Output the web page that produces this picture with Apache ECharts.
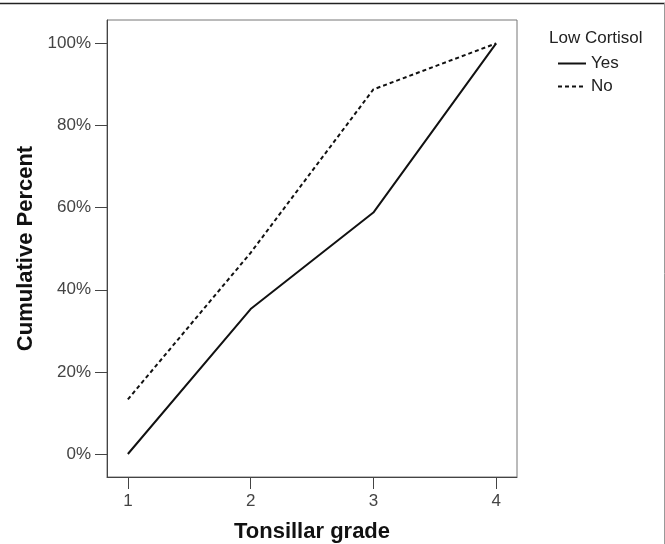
<!DOCTYPE html>
<html>
<head>
<meta charset="utf-8">
<script src="https://cdn.jsdelivr.net/npm/echarts@6/dist/echarts.min.js"></script>
<style>
  html, body { margin: 0; padding: 0; background: #fff; }
  #chart { width: 665px; height: 544px; }
</style>
</head>
<body>
<div id="chart"></div>
<script>
// 数据
var grades = [1, 2, 3, 4];
var yesPct = [0, 35.3, 58.8, 100];
var noPct = [13.3, 49, 88.8, 100];
var yTicks = [0, 20, 40, 60, 80, 100];

var chart = echarts.init(document.getElementById('chart'));

function pairs(vals) {
    return grades.map(function (g, i) { return [g, vals[i]]; });
}

var font = '"Liberation Sans", Arial, sans-serif';

chart.setOption({
    animation: false,
    textStyle: { fontFamily: font },
    title: {
        text: 'Low Cortisol',
        left: 549,
        top: 30,
        padding: 0,
        textStyle: { fontSize: 17, fontWeight: 'normal', color: '#222', fontFamily: font }
    },
    legend: {
        orient: 'vertical',
        left: 552,
        top: 50,
        itemWidth: 28,
        itemHeight: 14,
        itemGap: 6,
        itemStyle: { opacity: 0 },
        textStyle: { fontSize: 17, color: '#222', fontFamily: font },
        data: ['Yes', 'No']
    },
    grid: {
        left: 107,
        top: 20,
        right: 148,
        bottom: 67,
        outerBoundsMode: 'none',
        containLabel: false,
        show: true,
        borderColor: '#777',
        borderWidth: 1
    },
    xAxis: {
        type: 'value',
        min: 0.83,
        max: 4.17,
        name: 'Tonsillar grade',
        nameLocation: 'middle',
        nameGap: 44,
        nameTextStyle: { fontSize: 22, fontWeight: 'bold', color: '#111', fontFamily: font },
        splitLine: { show: false },
        axisLine: { onZero: false, lineStyle: { color: '#444', width: 1 } },
        axisTick: { customValues: grades, length: 12, lineStyle: { color: '#444' } },
        axisLabel: { customValues: grades, margin: 16, fontSize: 17, color: '#444', fontFamily: font }
    },
    yAxis: {
        type: 'value',
        min: -5.6,
        max: 105.7,
        name: 'Cumulative Percent',
        nameLocation: 'middle',
        nameGap: 70,
        nameTextStyle: { fontSize: 22, fontWeight: 'bold', color: '#111', fontFamily: font },
        splitLine: { show: false },
        axisLine: { show: true, onZero: false, lineStyle: { color: '#444', width: 1 } },
        axisTick: { show: true, customValues: yTicks, length: 12, lineStyle: { color: '#444' } },
        axisLabel: {
            customValues: yTicks,
            margin: 16,
            fontSize: 17,
            color: '#444',
            fontFamily: font,
            formatter: function (v) { return Math.round(v) + '%'; }
        }
    },
    graphic: [
        { type: 'line', shape: { x1: 0, y1: 3.5, x2: 665, y2: 3.5 }, style: { stroke: '#222', lineWidth: 1.5 } },
        { type: 'line', shape: { x1: 664.5, y1: 3, x2: 664.5, y2: 544 }, style: { stroke: '#999', lineWidth: 1 } }
    ],
    series: [
        {
            name: 'Yes',
            type: 'line',
            data: pairs(yesPct),
            symbol: 'none',
            color: '#111',
            lineStyle: { color: '#111', width: 2, type: 'solid' }
        },
        {
            name: 'No',
            type: 'line',
            data: pairs(noPct),
            symbol: 'none',
            color: '#111',
            lineStyle: { color: '#111', width: 2, type: [4, 3] }
        }
    ]
});
</script>
</body>
</html>
